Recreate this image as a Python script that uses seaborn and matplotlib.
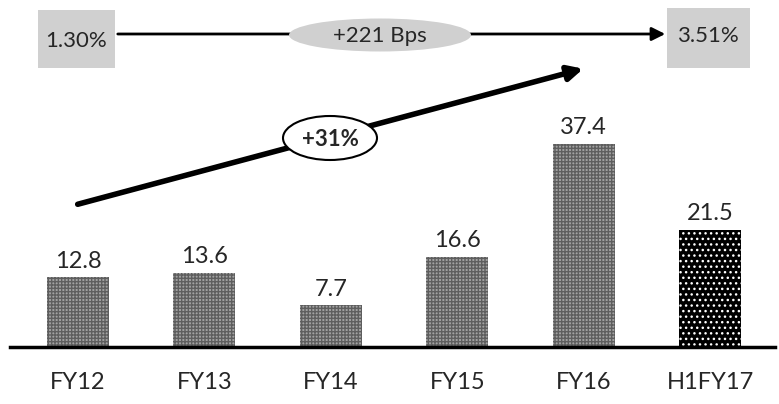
import matplotlib
matplotlib.use('Agg')
import matplotlib.pyplot as plt
import seaborn as sns
from matplotlib.patches import Ellipse, FancyArrowPatch, Rectangle

# data
years = ['FY12', 'FY13', 'FY14', 'FY15', 'FY16', 'H1FY17']
values = [12.8, 13.6, 7.7, 16.6, 37.4, 21.5]
value_labels = ['12.8', '13.6', '7.7', '16.6', '37.4', '21.5']
start_pct = '1.30%'
end_pct = '3.51%'
bps_text = '+221 Bps'
cagr_text = '+31%'

sns.set_style('white')
plt.rcParams['font.family'] = ['Lato', 'DejaVu Sans']

W, H = 779, 404
fig = plt.figure(figsize=(W / 100, H / 100), dpi=100)

# axes placed in pixel terms
def fx(px):
    return px / W

def fy(py):
    return 1 - py / H

ax = fig.add_axes([fx(10), fy(347), fx(765), (347 - 75) / H])

sns.barplot(x=years, y=values, ax=ax, color='#aaaaaa', width=0.49)

for i, p in enumerate(ax.patches):
    p.set_linewidth(0)
    if i == len(values) - 1:
        p.set_facecolor('black')
        p.set_edgecolor('white')
        p.set_hatch('...')
    else:
        p.set_facecolor('#a2a2a2')
        p.set_edgecolor('#5e5e5e')
        p.set_hatch('+++++')

ax.bar_label(ax.containers[0], labels=value_labels, padding=4, fontsize=17)

ax.set_xlim(-0.5375, 5.514)
ax.set_ylim(0, 50)
ax.set_yticks([])
ax.set_ylabel('')
ax.set_xlabel('')
for s in ['top', 'right', 'left']:
    ax.spines[s].set_visible(False)
ax.spines['bottom'].set_linewidth(2.5)
ax.spines['bottom'].set_color('black')
ax.tick_params(axis='x', length=0, pad=18, labelsize=17)

# top annotation: grey boxes and arrow
fig.add_artist(Rectangle((fx(38), fy(68)), fx(77), (68 - 10) / H,
                         facecolor='#d0d0d0', edgecolor='none', transform=fig.transFigure))
fig.add_artist(Rectangle((fx(667), fy(68)), fx(83), (68 - 8) / H,
                         facecolor='#d0d0d0', edgecolor='none', transform=fig.transFigure))
fig.text(fx(76), fy(41), start_pct, ha='center', va='center', fontsize=16)
fig.text(fx(708), fy(36), end_pct, ha='center', va='center', fontsize=16)

fig.add_artist(FancyArrowPatch((fx(115), fy(34)), (fx(668), fy(34)),
                               transform=fig.transFigure, arrowstyle='-|>',
                               mutation_scale=20, linewidth=2, color='black'))
fig.add_artist(Ellipse((fx(380), fy(35)), fx(182), 33 / H,
                       facecolor='#d0d0d0', edgecolor='none', transform=fig.transFigure))
fig.text(fx(380), fy(36), bps_text, ha='center', va='center', fontsize=16)

# diagonal growth arrow
fig.add_artist(FancyArrowPatch((fx(75), fy(205)), (fx(586), fy(68)),
                               transform=fig.transFigure, arrowstyle='-|>',
                               mutation_scale=22, linewidth=4, color='black'))
fig.add_artist(Ellipse((fx(330), fy(138)), fx(94), 44 / H,
                       facecolor='white', edgecolor='black', linewidth=1.5,
                       transform=fig.transFigure))
fig.text(fx(330), fy(139), cagr_text, ha='center', va='center', fontsize=16,
         fontweight='bold')

fig.savefig('out.png', dpi=100)
